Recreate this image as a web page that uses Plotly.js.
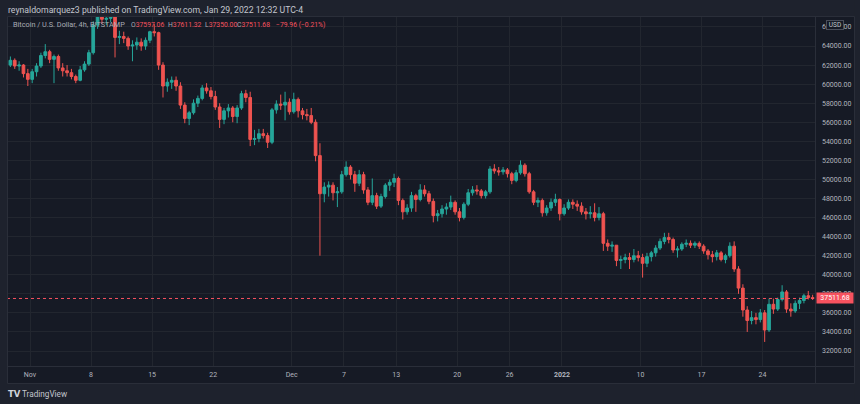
<!DOCTYPE html>
<html>
<head>
<meta charset="utf-8">
<script src="https://cdn.plot.ly/plotly-3.0.1.min.js"></script>
<style>
html,body{margin:0;padding:0;background:#1e222d;}
#chart{width:860px;height:404px;}
</style>
</head>
<body>
<div id="chart"></div>
<script>
// ---- DATA (12h candles, BTC/USD Bitstamp) ----
var firstCandle = '2021-10-29T18:00:00Z'; // centre of first 12h candle
var stepHours = 12;

var openP = [
62000,62500,61900,62000,61100,60500,61300,61900,63000,63400,
62600,62900,61700,61400,61200,60800,60400,61500,62100,63300,
66200,67500,66800,66900,67300,64900,65000,64800,64000,64100,
64400,64000,64600,65500,65400,62000,59800,60200,60400,59800,
57800,56400,57000,58000,58500,59600,59300,58700,57600,56300,
57200,57500,56600,57500,59000,58600,54200,54300,54800,54600,
53900,57300,57900,57800,58100,57100,58400,57200,56800,56700,
56000,52500,48500,49200,49400,48600,48700,50500,51300,50500,
49600,50500,48900,47600,48300,47200,48200,49400,49700,50100,
47800,46600,47000,48300,47900,48900,48500,47700,46200,46400,
46900,47100,47600,46600,46000,47400,48600,48900,48800,48300,
48700,51100,50900,50800,51000,50600,49900,50700,51500,50600,
48700,47600,47800,46500,47000,47600,47900,46400,47000,47600,
47400,47200,46600,46400,46500,46000,46400,43300,43000,43100,
41500,41600,41800,41600,42000,41800,41200,41900,42300,42800,
43500,43900,43700,42600,42700,43200,43300,43100,43300,43000,
42500,42100,41900,42300,41600,42000,43000,40600,38600,36300,
35200,35500,35300,36000,34200,36900,36400,37400,38200,36400,
36200,37000,37300,37800,37600];
var highP = [
62900,62700,62400,62100,61600,61600,62200,63300,64200,63600,
63100,63100,62200,62000,61600,61000,61900,62400,63600,66600,
68000,68500,67600,69000,67800,65600,65500,65000,64600,64900,
64800,64900,65600,66300,65500,62300,60600,60800,60800,60200,
58100,57200,58400,58800,59900,60100,59700,59300,58000,57500,
57900,57700,57800,59300,59400,59200,55200,55300,55300,54900,
57500,58300,58900,59200,58500,59100,58600,57500,57400,57500,
56300,53800,49700,49800,49700,49200,50900,51900,51500,50900,
51000,50800,49200,50100,48600,48500,49600,50000,50600,50300,
48000,47400,48700,48500,49500,49400,48800,48000,46800,47300,
47500,48300,47800,47000,47600,49000,49300,49400,49000,48900,
51400,51600,51300,51300,51200,50800,51000,52000,51700,50800,
48900,48100,48000,47300,48000,48500,48000,47400,47900,47900,
47800,47600,47000,47200,47500,47100,46600,43700,43500,43100,
42000,42200,42300,42700,42500,42200,42300,42500,43100,43800,
44400,44400,43900,43000,43400,43700,43600,43500,43500,43200,
42700,42500,42600,42500,42200,43400,43500,40900,39000,36700,
36200,36000,36400,36300,37500,37500,37600,38900,38400,37000,
37300,37600,38000,38300,37900];
var lowP = [
61800,61600,61400,60700,59800,60100,60800,61700,62700,62200,
60100,61400,60800,60800,60500,60100,60300,61300,61900,63100,
65800,66300,66200,66500,62800,64200,64300,63600,62400,63600,
63500,63600,64300,65000,61500,58600,59200,59500,59300,57400,
55900,55700,56800,57600,58300,59000,58400,57300,55400,55800,
56500,56000,55900,57300,58100,53500,53600,53900,54300,53300,
53700,56900,57300,56200,56800,56900,56500,56300,56200,55800,
51900,42000,47600,48200,47800,47100,48500,50300,50000,48700,
49300,48500,47300,47300,46900,47000,48000,48800,49200,47300,
45800,46300,46600,46600,47700,48200,47400,45500,45600,46000,
46300,46800,46300,45600,45800,47200,48300,48400,48000,48000,
48500,50600,50400,50500,50200,49500,49700,50500,50300,48500,
47300,47100,46100,46200,46700,47200,45700,46200,46800,46900,
46700,46300,45800,45900,45600,45700,42500,42500,42400,40900,
40600,41200,40600,41300,41400,39700,40800,41400,41900,42600,
43200,43300,42300,41800,42500,42900,42800,42800,42700,42200,
41600,41300,41500,41400,41200,41800,40300,38000,35600,34000,
34800,34800,35000,32950,34000,35900,36200,37200,36000,35600,
36000,36400,37000,37400,37350];
var closeP = [
62500,61900,62000,61100,60500,61300,61900,63000,63400,62600,
62900,61700,61400,61200,60800,60400,61500,62100,63300,66200,
67500,66800,66900,67300,64900,65000,64800,64000,64100,64400,
64000,64600,65500,65400,62000,59800,60200,60400,59800,57800,
56400,57000,58000,58500,59600,59300,58700,57600,56300,57200,
57500,56600,57500,59000,58600,54200,54300,54800,54600,53900,
57300,57900,57800,58100,57100,58400,57200,56800,56700,56000,
52500,48500,49200,49400,48600,48700,50500,51300,50500,49600,
50500,48900,47600,48300,47200,48200,49400,49700,50100,47800,
46600,47000,48300,47900,48900,48500,47700,46200,46400,46900,
47100,47600,46600,46000,47400,48600,48900,48800,48300,48700,
51100,50900,50800,51000,50600,49900,50700,51500,50600,48700,
47600,47800,46500,47000,47600,47900,46400,47000,47600,47400,
47200,46600,46400,46500,46000,46400,43300,43000,43100,41500,
41600,41800,41600,42000,41800,41200,41900,42300,42800,43500,
43900,43700,42600,42700,43200,43300,43100,43300,43000,42500,
42100,41900,42300,41600,42000,43000,40600,38600,36300,35200,
35500,35300,36000,34200,36900,36400,37400,38200,36400,36200,
37000,37300,37800,37600,37511.68];

var tickDates = ['2021-11-01','2021-11-08','2021-11-15','2021-11-22','2021-12-01','2021-12-07',
  '2021-12-13','2021-12-20','2021-12-26','2022-01-01','2022-01-10','2022-01-17','2022-01-24'];
var tickLabels = ['Nov','8','15','22','Dec','7','13','20','26','<b>2022</b>','10','17','24'];

var lastPrice = 37511.68;
var legendO = '37597.06', legendH = '37611.32', legendL = '37350.00', legendC = '37511.68';
var legendChg = '\u221279.96 (\u22120.21%)';
var headerText = 'reynaldomarquez3 published on TradingView.com, Jan 29, 2022 12:32 UTC-4';
var symbolText = 'Bitcoin / U.S. Dollar, 4h, BITSTAMP';

// ---- build ----
var t0 = Date.parse(firstCandle);
var times = openP.map(function(_, i){
  return new Date(t0 + i*stepHours*3600000).toISOString().slice(0,16).replace('T',' ');
});

var UP = '#26a69a', DOWN = '#ef5350', RED = '#f7525f';
var CH = '#161a25', OUT = '#1e222d', FRAME = '#2a2e39', GRID = '#22262f';
var L = 7, R = 815, T = 16, B = 366, W = R - L, H = B - T;
function px(x){ return (x - L) / W; }
function py(y){ return (B - y) / H; }

var trace = {
  type: 'candlestick', x: times, open: openP, high: highP, low: lowP, close: closeP,
  increasing: {line: {color: UP, width: 1}, fillcolor: UP},
  decreasing: {line: {color: DOWN, width: 1}, fillcolor: DOWN},
  whiskerwidth: 0, hoverinfo: 'skip', showlegend: false
};

var font = 'Roboto, "Liberation Sans", sans-serif';
function rect(x0, y0, x1, y1, fill, line){
  return {type:'rect', xref:'paper', yref:'paper', x0:px(x0), x1:px(x1), y0:py(y0), y1:py(y1),
    fillcolor: fill || 'rgba(0,0,0,0)', line:{color: line || 'rgba(0,0,0,0)', width: line ? 1 : 0}, layer:'above'};
}
function lineShape(x0, y0, x1, y1){
  return {type:'line', xref:'paper', yref:'paper', x0:px(x0), x1:px(x1), y0:py(y0), y1:py(y1),
    line:{color: FRAME, width:1}, layer:'above'};
}

var shapes = [
  rect(0, 0, 860, T, OUT), rect(0, 383.5, 860, 404, OUT),
  rect(0, 0, L, 404, OUT), rect(854.5, 0, 860, 404, OUT),
  {type:'line', xref:'paper', yref:'y', x0:0, x1:1, y0:lastPrice, y1:lastPrice,
   line:{color: RED, width:1, dash:'dot'}, layer:'above'},
  rect(L+0.5, T+0.5, 854.5, 383.5, null, FRAME),
  lineShape(R+0.5, T, R+0.5, 383.5),
  lineShape(L, B+0.5, 854.5, B+0.5)
];

function ann(x, y, text, opts){
  var a = {xref:'paper', yref:'paper', x:px(x), y:py(y), text:text, showarrow:false,
    xanchor:'left', yanchor:'middle', font:{family:font, size:7, color:'#b2b5be'}};
  for (var k in opts) a[k] = opts[k];
  return a;
}
function val(letter, v){ return letter + '<span style="color:' + RED + '">' + v + '</span>'; }
var legFont = {family:font, size:6.8, color:'#a9acb5'};

var annotations = [
  ann(6, 9.5, headerText, {font:{family:font, size:8.7, color:'#c3c6ce'}}),
  ann(10.5, 25, symbolText, {font:{family:font, size:7.3, color:'#a9acb5'}}),
  ann(128.5, 25, val('O', legendO), {font:legFont}),
  ann(165.5, 25, val('H', legendH), {font:legFont}),
  ann(202.5, 25, val('L', legendL), {font:legFont}),
  ann(235, 25, val('C', legendC), {font:legFont}),
  ann(274, 25, legendChg, {font:{family:font, size:6.8, color: RED}}),
  {xref:'paper', yref:'y', x:px(815.5), y:lastPrice, xanchor:'left', yanchor:'middle',
   text: lastPrice.toFixed(2), showarrow:false, bgcolor: RED, width:35, height:9, borderpad:0.5,
   font:{family:font, size:7, color:'#ffffff'}},
  {xref:'paper', yref:'paper', x:px(835), y:py(25), xanchor:'center', yanchor:'middle',
   text:'USD', showarrow:false, bgcolor: CH, bordercolor:'#4a4e5a', borderwidth:1, borderpad:0.5,
   width:15, height:7, font:{family:font, size:6.5, color:'#c3c6ce'}},
  ann(5.5, 394, '<b>TV</b>', {font:{family:'"DejaVu Sans", sans-serif', size:8.5, color:'#d1d4dc'}}),
  ann(19.5, 394, 'TradingView', {font:{family:font, size:8.2, color:'#c3c6ce'}})
];

var layout = {
  width: 860, height: 404,
  margin: {l: L, r: 860 - R, t: T, b: 404 - B, pad: 0},
  paper_bgcolor: CH, plot_bgcolor: CH,
  showlegend: false, boxgap: 0.12,
  xaxis: {
    type: 'date', range: ['2021-10-29 08:41', '2022-01-30 00:30'],
    tickmode: 'array', tickvals: tickDates, ticktext: tickLabels,
    showgrid: true, gridcolor: GRID, gridwidth: 1, zeroline: false, showline: false,
    ticks: '', ticklabelstandoff: 3,
    tickfont: {family: font, size: 7, color: '#b2b5be'},
    rangeslider: {visible: false}, fixedrange: true
  },
  yaxis: {
    side: 'right', range: [30426, 67148], tick0: 0, dtick: 2000, tickformat: '.2f',
    showgrid: true, gridcolor: GRID, gridwidth: 1, zeroline: false, showline: false,
    ticks: '', ticklabelstandoff: 6,
    tickfont: {family: font, size: 7, color: '#b2b5be'}, fixedrange: true
  },
  shapes: shapes,
  annotations: annotations
};

Plotly.newPlot('chart', [trace], layout, {staticPlot: true, displayModeBar: false});
</script>
</body>
</html>
